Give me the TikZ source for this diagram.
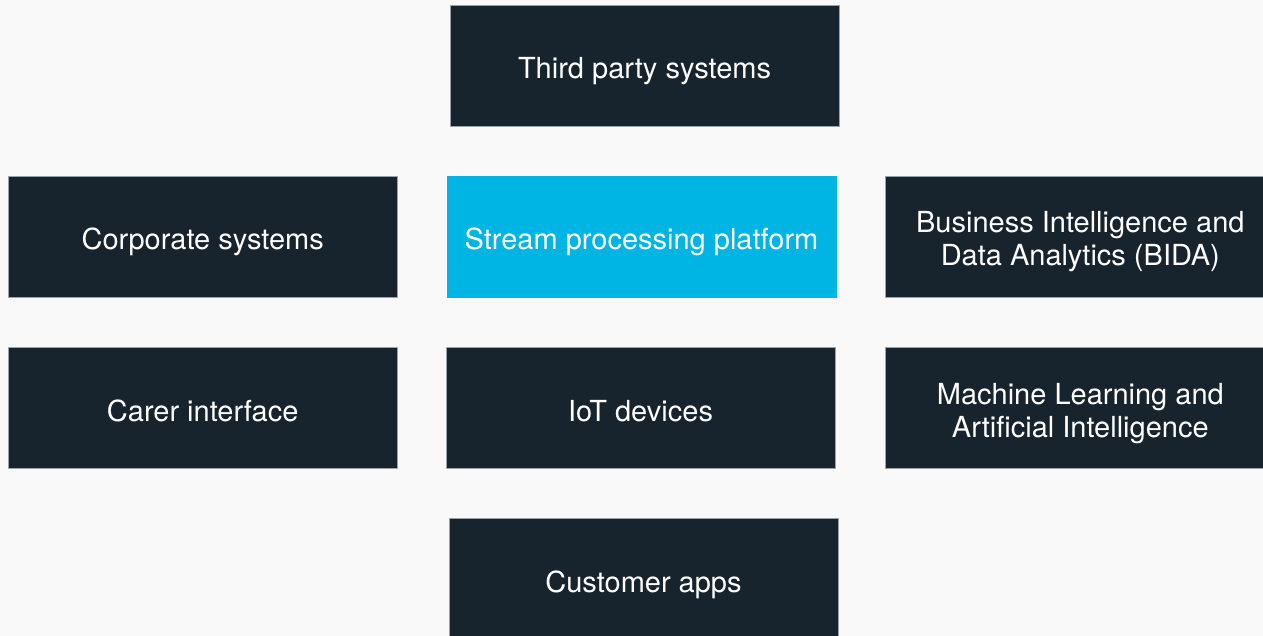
\documentclass[tikz,border=0pt]{standalone}
\usepackage{fontspec}
\setmainfont{TeX Gyre Heros}
\usetikzlibrary{positioning}
\definecolor{boxdark}{HTML}{17232D}
\definecolor{boxcyan}{HTML}{00B4E4}
\definecolor{boxline}{HTML}{9BA3A8}
\definecolor{bgpage}{HTML}{F9F9F9}
\tikzset{
mybox/.style={
  rectangle,
  draw=boxline,
  line width=0.8pt,
  fill=boxdark,
  text=white,
  minimum width=389pt,
  minimum height=121pt,
  text height=26pt,
  text depth=0pt,
  align=center,
  font=\fontsize{29}{33}\selectfont
  },
mytwo/.style={
  mybox,
  text height=62pt,
  text depth=4pt
  },
mycyan/.style={
  mybox,
  fill=boxcyan,
  draw=boxcyan
  }
}

\begin{document}
\begin{tikzpicture}[x=1pt,y=1pt,node distance=49pt]
\useasboundingbox[fill=bgpage] (0,0) rectangle (1263,-636);
\clip (0,0) rectangle (1263,-636);

\node[mycyan] (stream) at (641.5,-236.5) {Stream processing platform};
\node[mybox,left=of stream] (corp) {Corporate systems};
\node[mytwo,right=of stream] (bida) {Business Intelligence and\\Data Analytics (BIDA)};
\node[mybox,above=of stream,xshift=3pt] (third) {Third party systems};

\node[mybox,below=50pt of stream,xshift=-1pt] (iot) {IoT devices};
\node[mybox,below=50pt of corp] (carer) {Carer interface};
\node[mytwo,below=50pt of bida] (ml) {Machine Learning and\\Artificial Intelligence};

\node[mybox,below=of iot,xshift=3pt] (cust) {Customer apps};

\end{tikzpicture}
\end{document}
